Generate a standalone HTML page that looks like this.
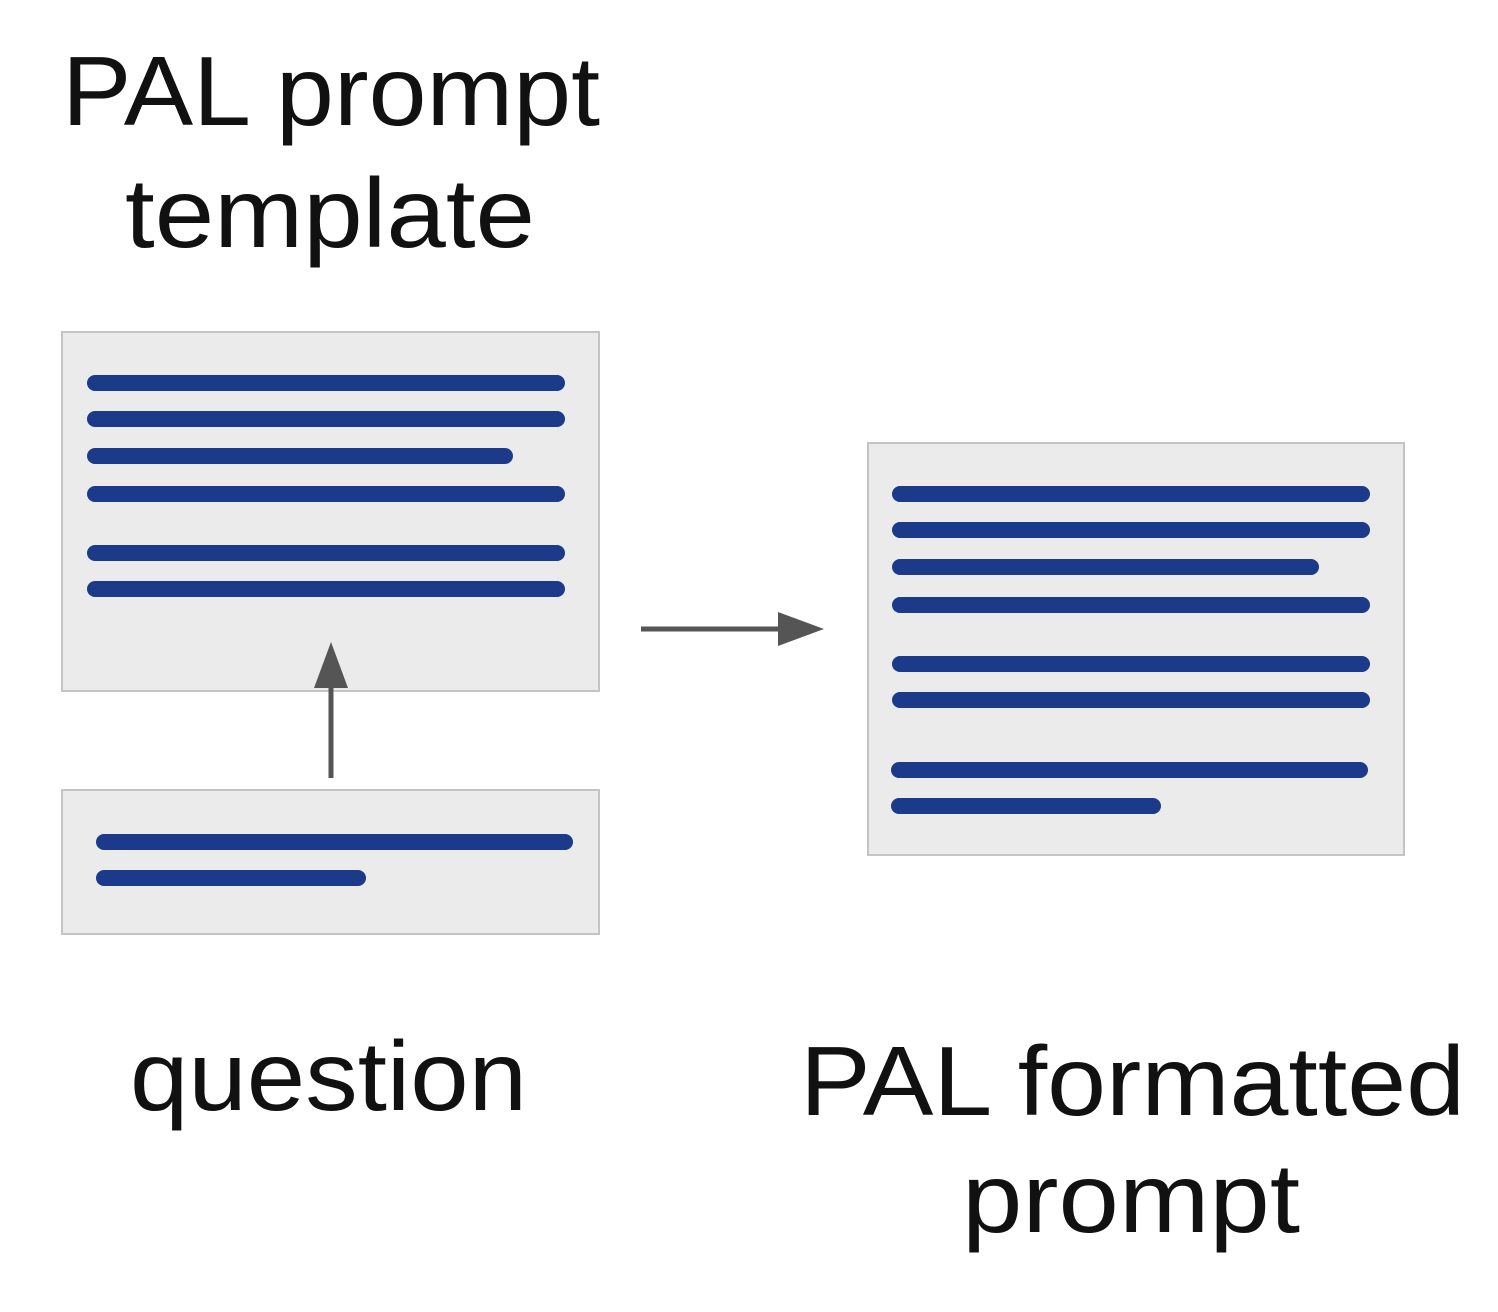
<!DOCTYPE html>
<html><head><style>
html,body{margin:0;padding:0;background:#fff;}
svg{display:block;}
text{font-family:"Liberation Sans",sans-serif;fill:#111;font-size:98px;}
</style></head><body>
<svg width="1498" height="1312" viewBox="0 0 1498 1312">
<rect width="1498" height="1312" fill="#ffffff"/>
<text x="62" y="125" textLength="538" lengthAdjust="spacingAndGlyphs">PAL prompt</text>
<text x="125" y="247" textLength="410" lengthAdjust="spacingAndGlyphs">template</text>
<text x="130" y="1110" textLength="397" lengthAdjust="spacingAndGlyphs">question</text>
<text x="800" y="1115" textLength="665" lengthAdjust="spacingAndGlyphs">PAL formatted</text>
<text x="962" y="1232" textLength="338" lengthAdjust="spacingAndGlyphs">prompt</text>

<g fill="#ebebeb" stroke="#c4c4c4" stroke-width="2">
<rect x="62" y="332" width="537" height="359"/>
<rect x="62" y="790" width="537" height="144"/>
<rect x="868" y="443" width="536" height="412"/>
</g>
<g stroke="#1c3a8a" stroke-width="16" stroke-linecap="round">
<line x1="95" y1="383" x2="557" y2="383"/>
<line x1="95" y1="419" x2="557" y2="419"/>
<line x1="95" y1="456" x2="505" y2="456"/>
<line x1="95" y1="494" x2="557" y2="494"/>
<line x1="95" y1="553" x2="557" y2="553"/>
<line x1="95" y1="589" x2="557" y2="589"/>
<line x1="104" y1="842" x2="565" y2="842"/>
<line x1="104" y1="878" x2="358" y2="878"/>
<line x1="900" y1="494" x2="1362" y2="494"/>
<line x1="900" y1="530" x2="1362" y2="530"/>
<line x1="900" y1="567" x2="1311" y2="567"/>
<line x1="900" y1="605" x2="1362" y2="605"/>
<line x1="900" y1="664" x2="1362" y2="664"/>
<line x1="900" y1="700" x2="1362" y2="700"/>
<line x1="899" y1="770" x2="1360" y2="770"/>
<line x1="899" y1="806" x2="1153" y2="806"/>
</g>
<g stroke="#555" stroke-width="5" fill="#555">
<line x1="331" y1="778" x2="331" y2="685"/>
<line x1="641" y1="629" x2="785" y2="629"/>
</g>
<g fill="#555">
<polygon points="331,642 314,688 348,688"/>
<polygon points="824,629 778,612 778,646"/>
</g>
</svg>
</body></html>
